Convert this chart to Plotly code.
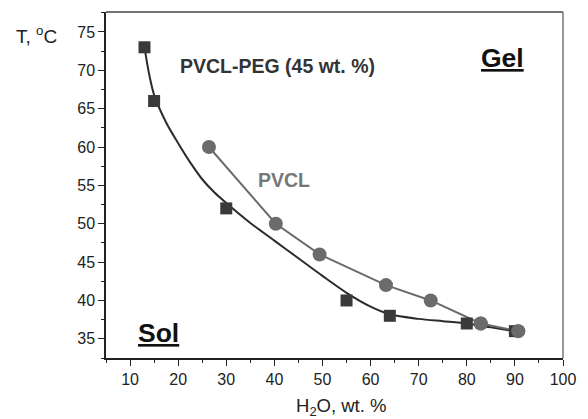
import plotly.graph_objects as go

# PVCL-PEG (45 wt. %) measured points
peg_x = [13, 15, 30, 55, 64, 80, 90]
peg_y = [73, 66, 52, 40, 38, 37, 36]

# fitted curve through PVCL-PEG points
fit_x = [13, 14, 15, 17.5, 20, 22.5, 25, 27.5, 30, 35, 40, 45, 50, 55, 60, 64, 70, 75, 80, 85, 90]
fit_y = [73, 69.4, 66.8, 63.2, 60.5, 58.0, 55.8, 54.1, 52.7, 50.1, 47.8, 45.5, 43.2, 41.0, 39.2, 38.2, 37.6, 37.3, 37.0, 36.5, 36.0]

# PVCL points
pvcl_x = [26.4, 40.3, 49.4, 63.2, 72.5, 82.9, 90.7]
pvcl_y = [60, 50, 46, 42, 40, 37, 36]

x_ticks = [10, 20, 30, 40, 50, 60, 70, 80, 90, 100]
y_ticks = [35, 40, 45, 50, 55, 60, 65, 70, 75]

FONT = "Arial, Liberation Sans, sans-serif"
DARK = "#333333"
GREY = "#6b6b6b"

fig = go.Figure()
fig.add_trace(go.Scatter(x=fit_x, y=fit_y, mode="lines", line=dict(color="#2b2b2b", width=2, shape="spline", smoothing=0.8), hoverinfo="skip"))
fig.add_trace(go.Scatter(x=pvcl_x, y=pvcl_y, mode="lines+markers", line=dict(color=GREY, width=2),
                         marker=dict(symbol="circle", size=14, color=GREY)))
fig.add_trace(go.Scatter(x=peg_x, y=peg_y, mode="markers",
                         marker=dict(symbol="square", size=12, color="#3a3a3a")))
fig.add_trace(go.Scatter(x=pvcl_x[-2:], y=pvcl_y[-2:], mode="markers",
                         marker=dict(symbol="circle", size=14, color=GREY)))

fig.update_layout(
    width=588, height=419,
    margin=dict(l=106, r=15, t=12, b=61),
    paper_bgcolor="white", plot_bgcolor="white",
    showlegend=False,
    font=dict(family=FONT, size=16, color="#222222"),
)
fig.update_xaxes(
    range=[5, 100], tickvals=x_ticks, ticks="outside", ticklen=6, tickwidth=1.3,
    tickcolor="#222", showline=True, linecolor="#222", linewidth=1.5,
    showgrid=False, zeroline=False,
    minor=dict(dtick=5, tick0=5, ticks="outside", ticklen=3.5, tickcolor="#222", tickwidth=1.2),
    tickfont=dict(size=16, color="#222"),
)
fig.update_yaxes(
    range=[32.5, 77.6], tickvals=y_ticks, ticks="outside", ticklen=6, tickwidth=1.3,
    tickcolor="#222", showline=True, linecolor="#222", linewidth=1.5,
    showgrid=False, zeroline=False,
    minor=dict(dtick=2.5, tick0=32.5, ticks="outside", ticklen=3.5, tickcolor="#222", tickwidth=1.2),
    tickfont=dict(size=16, color="#222"),
)
# top and right frame lines
fig.add_shape(type="line", xref="paper", yref="paper", x0=0, x1=1, y0=1, y1=1, line=dict(color="#444", width=1.5))
fig.add_shape(type="line", xref="paper", yref="paper", x0=1, x1=1, y0=0, y1=1, line=dict(color="#777", width=1.5))

fig.add_annotation(text="H<sub>2</sub>O, wt. %", xref="paper", yref="paper", x=0.515, y=-0.142,
                   xanchor="center", yanchor="middle", showarrow=False, font=dict(size=18.5, color="#222"))
fig.add_annotation(text="T, <sup>o</sup>C", xref="paper", yref="paper", x=-0.103, y=0.934,
                   xanchor="right", yanchor="middle", showarrow=False, font=dict(size=19, color="#222"))
fig.add_annotation(text="<b>PVCL-PEG (45 wt. %)</b>", x=40.6, y=70.5, showarrow=False,
                   font=dict(size=19.5, color=DARK))
fig.add_annotation(text="<b>PVCL</b>", x=42, y=55.7, showarrow=False,
                   font=dict(size=19.5, color="#777"))
fig.add_annotation(text="<b><u>Gel</u></b>", x=87.5, y=71.6, showarrow=False,
                   font=dict(size=26.5, color="#111"))
fig.add_annotation(text="<b><u>Sol</u></b>", x=15.9, y=35.8, showarrow=False,
                   font=dict(size=26.5, color="#111"))

fig.write_html("out.html")
